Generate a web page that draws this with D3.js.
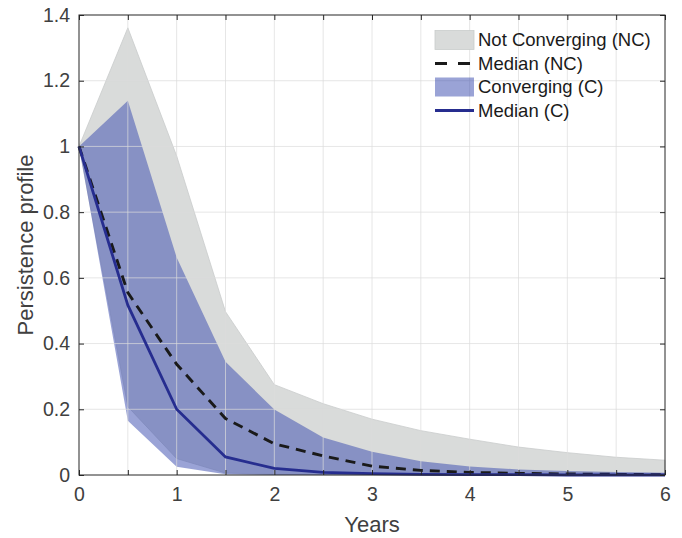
<!DOCTYPE html>
<html>
<head>
<meta charset="utf-8">
<script src="https://cdn.jsdelivr.net/npm/d3@7"></script>
<style>
  html, body { margin: 0; padding: 0; background: #fff; }
  svg { display: block; font-family: "Liberation Sans", Arial, sans-serif; }
</style>
</head>
<body>
<svg id="chart"></svg>
<script>
// horizon in years (half-year steps)
const years = [0, 0.5, 1, 1.5, 2, 2.5, 3, 3.5, 4, 4.5, 5, 5.5, 6];

// not converging (NC) band and median
const ncUpper  = [1, 1.361, 0.971, 0.497, 0.275, 0.217, 0.170, 0.135, 0.109, 0.085, 0.068, 0.054, 0.045];
const ncLower  = [1, 0.208, 0.050, 0.006, 0.002, 0.001, 0, 0, 0, 0, 0, 0, 0];
const ncMedian = [1, 0.555, 0.337, 0.172, 0.095, 0.058, 0.027, 0.014, 0.008, 0.005, 0.003, 0.002, 0.001];

// converging (C) band and median
const cUpper  = [1, 1.139, 0.662, 0.345, 0.199, 0.114, 0.071, 0.042, 0.026, 0.017, 0.012, 0.009, 0.007];
const cLower  = [1, 0.165, 0.025, 0.002, 0, 0, 0, 0, 0, 0, 0, 0, 0];
const cMedian = [1, 0.517, 0.200, 0.055, 0.020, 0.008, 0.004, 0.002, 0.001, 0.001, 0, 0, 0];

const xTicks = [0, 1, 2, 3, 4, 5, 6];
const yTicks = [0, 0.2, 0.4, 0.6, 0.8, 1, 1.2, 1.4];

const legendLabels = ["Not Converging (NC)", "Median (NC)", "Converging (C)", "Median (C)"];

const width = 682, height = 538;
const margin = {top: 15, right: 17, bottom: 63, left: 79};
const axisColor = "#262626", textColor = "#404040";

const svg = d3.select("#chart")
    .attr("width", width)
    .attr("height", height);

const x = d3.scaleLinear().domain([0, 6]).range([margin.left, width - margin.right]);
const y = d3.scaleLinear().domain([0, 1.4]).range([height - margin.bottom, margin.top]);

const halfYears = d3.range(0, 6.01, 0.5);
const fifths = d3.range(0, 1.401, 0.2);

const band = (up, lo) => d3.area()
    .x((d, i) => x(years[i]))
    .y0((d, i) => y(lo[i]))
    .y1((d, i) => y(up[i]))(up);
const line = vals => d3.line()
    .x((d, i) => x(years[i]))
    .y(d => y(d))(vals);

// bands
svg.append("path")
    .attr("d", band(ncUpper, ncLower))
    .attr("fill", "#d9dbda")
    .attr("stroke", "#c9cccb")
    .attr("stroke-width", 0.8);

svg.append("path")
    .attr("d", band(cUpper, cLower))
    .attr("fill", "rgb(53,71,173)")
    .attr("fill-opacity", 0.5);

// grid on top, semi transparent
const grid = svg.append("g")
    .attr("stroke", "#dcdcdc")
    .attr("stroke-opacity", 0.7)
    .attr("stroke-width", 1);
grid.selectAll(".gx")
    .data(halfYears.slice(1, -1))
    .join("line")
    .attr("x1", d => x(d)).attr("x2", d => x(d))
    .attr("y1", y(0)).attr("y2", y(1.4));
grid.selectAll(".gy")
    .data(fifths.slice(1, -1))
    .join("line")
    .attr("x1", x(0)).attr("x2", x(6))
    .attr("y1", d => y(d)).attr("y2", d => y(d));

// medians
svg.append("path")
    .attr("d", line(ncMedian))
    .attr("fill", "none")
    .attr("stroke", "#1a1a1a")
    .attr("stroke-width", 2.9)
    .attr("stroke-dasharray", "10,7");

svg.append("path")
    .attr("d", line(cMedian))
    .attr("fill", "none")
    .attr("stroke", "#262d8f")
    .attr("stroke-width", 2.8);

// axes with inward ticks on all sides
const tickLen = 5;
const xAxis = svg.append("g")
    .attr("transform", `translate(0,${y(0)})`)
    .call(d3.axisBottom(x).tickValues(halfYears).tickSize(-tickLen).tickPadding(12)
        .tickFormat(d => xTicks.includes(d) ? d3.format("d")(d) : ""));
xAxis.select(".domain").remove();

const xTop = svg.append("g")
    .attr("transform", `translate(0,${y(1.4)})`)
    .call(d3.axisTop(x).tickValues(halfYears).tickSize(-tickLen).tickFormat(""));
xTop.select(".domain").remove();

const yAxis = svg.append("g")
    .attr("transform", `translate(${x(0)},0)`)
    .call(d3.axisLeft(y).tickValues(yTicks).tickSize(-tickLen).tickPadding(9)
        .tickFormat(d => d3.format("~g")(d)));
yAxis.select(".domain").remove();

const yRight = svg.append("g")
    .attr("transform", `translate(${x(6)},0)`)
    .call(d3.axisRight(y).tickValues(yTicks).tickSize(-tickLen).tickFormat(""));
yRight.select(".domain").remove();

svg.selectAll(".tick line").attr("stroke", axisColor).attr("stroke-width", 1);
svg.selectAll(".tick text")
    .attr("fill", textColor)
    .style("font-size", "19.5px")
    .style("font-family", "'Liberation Sans', Arial, sans-serif");

// box
svg.append("rect")
    .attr("x", x(0)).attr("y", y(1.4))
    .attr("width", x(6) - x(0)).attr("height", y(0) - y(1.4))
    .attr("fill", "none")
    .attr("stroke", axisColor)
    .attr("stroke-width", 1);

// axis labels
svg.append("text")
    .attr("x", (x(0) + x(6)) / 2)
    .attr("y", 532)
    .attr("text-anchor", "middle")
    .attr("fill", textColor)
    .style("font-size", "22px")
    .text("Years");

svg.append("text")
    .attr("transform", `translate(33,${(y(0) + y(1.4)) / 2}) rotate(-90)`)
    .attr("text-anchor", "middle")
    .attr("fill", textColor)
    .style("font-size", "22px")
    .text("Persistence profile");

// legend (no box)
const legend = svg.append("g").attr("transform", "translate(435,40)");
const rowH = 23.5;
const rows = legend.selectAll("g")
    .data(legendLabels)
    .join("g")
    .attr("transform", (d, i) => `translate(0,${i * rowH})`);

rows.filter((d, i) => i === 0).append("rect")
    .attr("x", 0).attr("y", -9.5).attr("width", 39).attr("height", 19)
    .attr("fill", "#d9dbda").attr("stroke", "#c9cccb").attr("stroke-width", 0.8);
rows.filter((d, i) => i === 2).append("rect")
    .attr("x", 0).attr("y", -9.5).attr("width", 39).attr("height", 19)
    .attr("fill", "rgb(53,71,173)").attr("fill-opacity", 0.5);
rows.filter((d, i) => i === 1).append("line")
    .attr("x1", 0).attr("x2", 39).attr("y1", 0).attr("y2", 0)
    .attr("stroke", "#1a1a1a").attr("stroke-width", 2.9)
    .attr("stroke-dasharray", "12,11");
rows.filter((d, i) => i === 3).append("line")
    .attr("x1", 0).attr("x2", 39).attr("y1", 0).attr("y2", 0)
    .attr("stroke", "#262d8f").attr("stroke-width", 2.8);

rows.append("text")
    .attr("x", 43)
    .attr("dy", "0.35em")
    .attr("fill", "#1a1a1a")
    .style("font-size", "18.5px")
    .text(d => d);
</script>
</body>
</html>
